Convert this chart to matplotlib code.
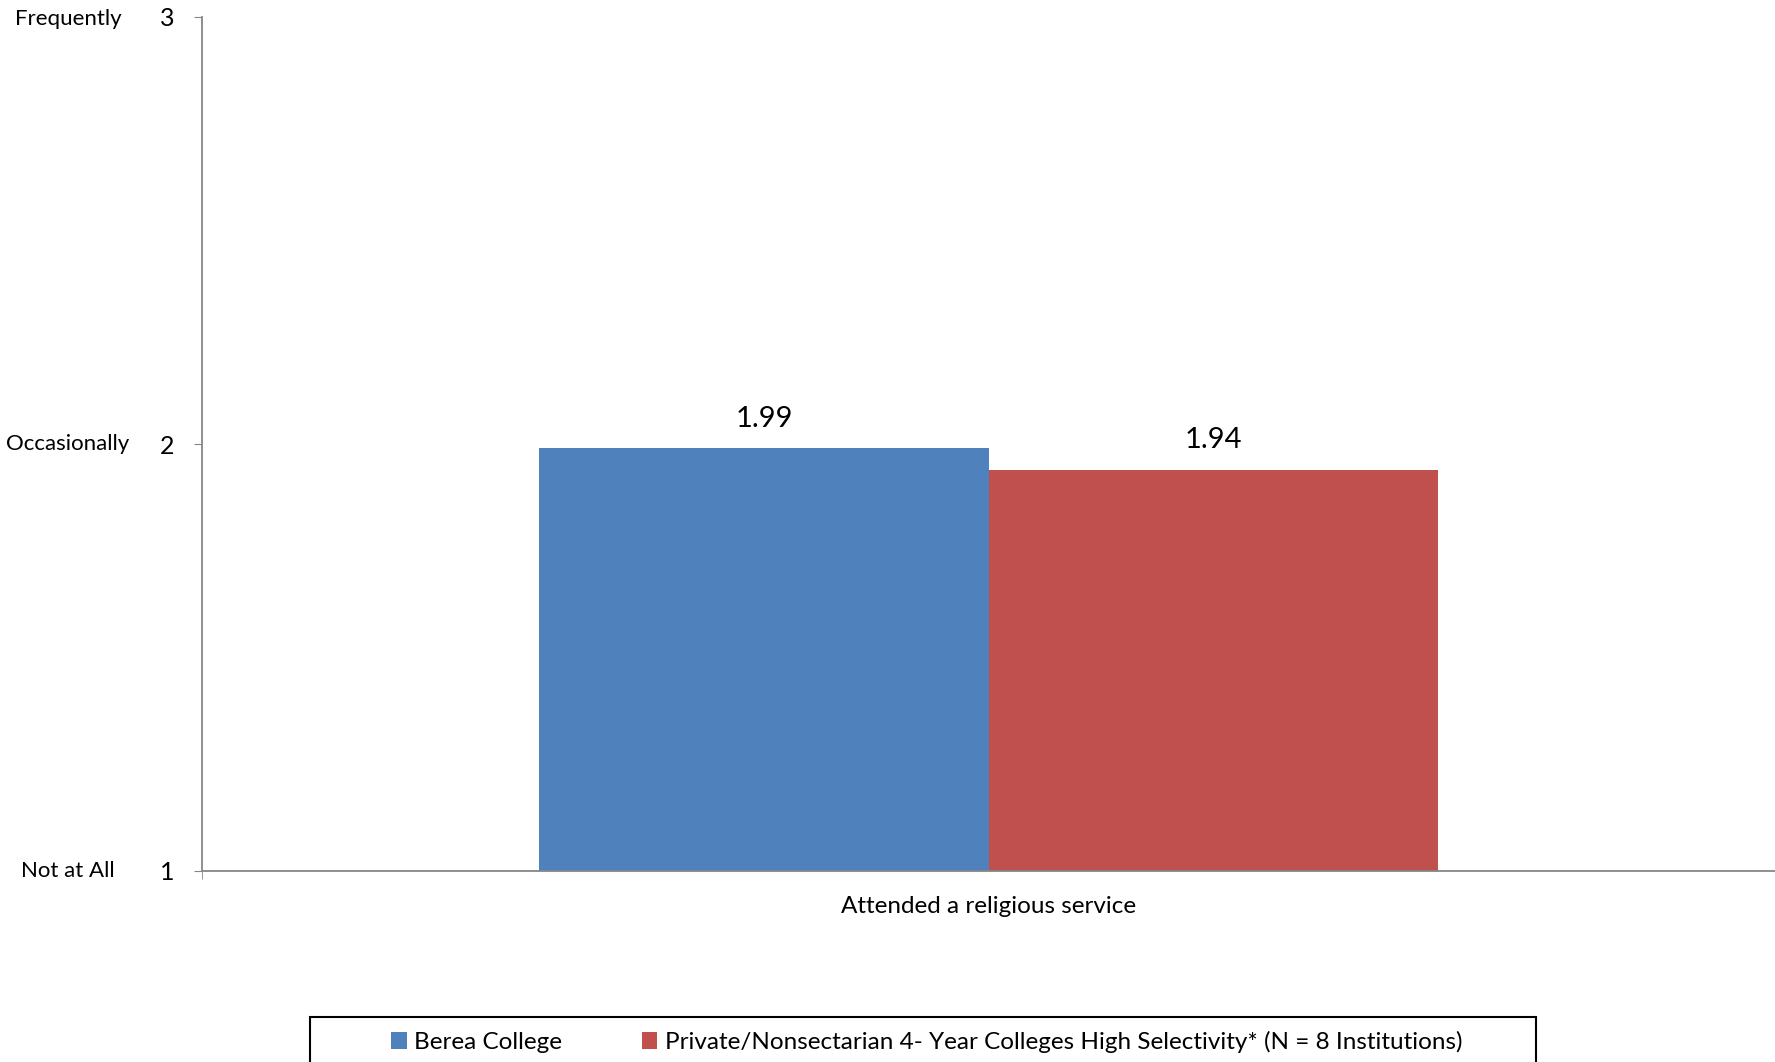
import matplotlib
matplotlib.use("Agg")
import matplotlib.pyplot as plt
from matplotlib.patches import Rectangle
import numpy as np

plt.rcParams['font.family'] = ['Lato', 'DejaVu Sans']

category = "Attended a religious service"
series = ["Berea College",
          "Private/Nonsectarian 4- Year Colleges High Selectivity* (N = 8 Institutions)"]
values = [1.99, 1.94]
colors = ["#4F81BD", "#C0504D"]
yticks = [1, 2, 3]
ylabels = ["Not at All", "Occasionally", "Frequently"]

W, H = 1775, 1062
fig = plt.figure(figsize=(W / 100, H / 100), dpi=100)
ax = fig.add_axes([202 / W, (H - 871) / H, 1 - 202 / W, (871 - 17) / H])

width = 0.2855
offsets = [-width / 2, width / 2]
for v, c, off, name in zip(values, colors, offsets, series):
    ax.bar(off, v - 1, width=width, bottom=1, color=c, label=name)
    ax.annotate(f"{v:.2f}", (off, v), xytext=(0, 12), textcoords="offset points",
                ha="center", va="bottom", fontsize=21)

ax.set_xlim(-0.5, 0.5)
ax.set_ylim(1, 3)
ax.set_yticks(yticks)
ax.set_yticklabels([str(t) for t in yticks], fontsize=18)
ax.tick_params(axis='y', length=6, color="#868686", pad=14)
ax.set_xticks([0])
ax.set_xticklabels([category], fontsize=17.5)
ax.tick_params(axis='x', length=0, pad=18)
ax.set_xticks([-0.5, 0.5], minor=True)
ax.tick_params(axis='x', which='minor', length=6, color="#868686")
for s in ["top", "right"]:
    ax.spines[s].set_visible(False)
for s in ["left", "bottom"]:
    ax.spines[s].set_color("#868686")
    ax.spines[s].set_linewidth(1.3)

for t, lab in zip(yticks, ylabels):
    y = ax.transData.transform((0, t))[1] / H
    if t == 3:
        y -= 2 / H
    fig.text(68 / W, y, lab, ha="center", va="center", fontsize=16)

fig.patches.append(Rectangle((310 / W, -0.05), (1536 - 310) / W, 0.05 + (H - 1017) / H,
                             transform=fig.transFigure, fill=False,
                             edgecolor="black", linewidth=1.5))
handles, labels = ax.get_legend_handles_labels()
fig.legend(handles, labels, loc="center left", bbox_to_anchor=(391 / W, (H - 1042) / H),
           ncol=2, frameon=False, fontsize=17.5, handlelength=0.65, handleheight=0.65,
           handletextpad=0.3, columnspacing=3.27, borderaxespad=0, borderpad=0)

fig.savefig("out.png", dpi=100)
